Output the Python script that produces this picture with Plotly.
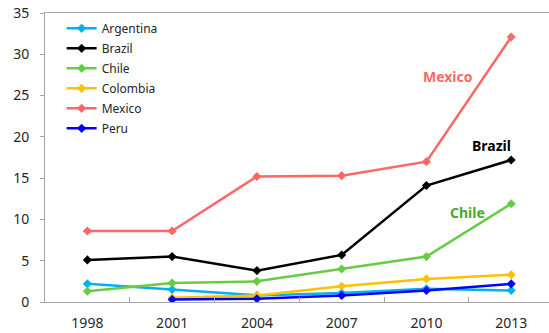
import plotly.graph_objects as go

years = ["1998", "2001", "2004", "2007", "2010", "2013"]
argentina = [2.2, 1.5, 0.8, 1.1, 1.6, 1.4]
brazil = [5.1, 5.5, 3.8, 5.7, 14.1, 17.2]
chile = [1.3, 2.3, 2.5, 4.0, 5.5, 11.9]
colombia = [None, 0.5, 0.8, 1.9, 2.8, 3.3]
mexico = [8.6, 8.6, 15.2, 15.3, 17.0, 32.1]
peru = [None, 0.3, 0.4, 0.8, 1.4, 2.2]

series = [
    ("Argentina", argentina, "#00B0F0"),
    ("Brazil", brazil, "#000000"),
    ("Chile", chile, "#66CC44"),
    ("Colombia", colombia, "#FFC000"),
    ("Mexico", mexico, "#FF6666"),
    ("Peru", peru, "#0000FF"),
]

fig = go.Figure()
for name, vals, col in series:
    fig.add_trace(go.Scatter(
        x=years, y=vals, name=name, mode="lines+markers", legendgroup=name,
        line=dict(color=col, width=2.5),
        marker=dict(symbol="diamond", size=7, color=col),
    ))

font = "Noto Sans, Open Sans, sans-serif"
fig.update_layout(
    width=549, height=333,
    margin=dict(l=45, r=0, t=13, b=31),
    paper_bgcolor="white", plot_bgcolor="white",
    font=dict(family=font, color="#262626"),
    showlegend=True,
    legend=dict(x=0.033, y=0.997, xanchor="left", yanchor="top",
                font=dict(size=12, color="#262626"), itemwidth=30,
                bgcolor="rgba(0,0,0,0)", tracegroupgap=1),
    xaxis=dict(type="category", range=[-0.5, 5.446], showline=True,
               linecolor="#A6A6A6", linewidth=1, mirror=True,
               ticks="inside", tickson="boundaries", ticklen=5,
               tickcolor="#A6A6A6", showgrid=False, ticklabelstandoff=8,
               tickfont=dict(size=14, color="#262626")),
    yaxis=dict(range=[0, 35], dtick=5, showline=True, linecolor="#A6A6A6",
               linewidth=1, ticks="outside", ticklen=4, tickcolor="#A6A6A6",
               showgrid=False, zeroline=False, ticklabelstandoff=8,
               tickfont=dict(size=14, color="#262626")),
)

fig.add_annotation(x=4.25, y=27.3, text="<b>Mexico</b>", showarrow=False,
                   font=dict(size=14, color="#FF6666"))
fig.add_annotation(x=4.77, y=18.9, text="<b>Brazil</b>", showarrow=False,
                   font=dict(size=14, color="#000000"))
fig.add_annotation(x=4.49, y=10.85, text="<b>Chile</b>", showarrow=False,
                   font=dict(size=14, color="#4EA72E"))

fig.write_html("out.html", config={"displayModeBar": False},
               post_script="document.body.style.margin='0';")
